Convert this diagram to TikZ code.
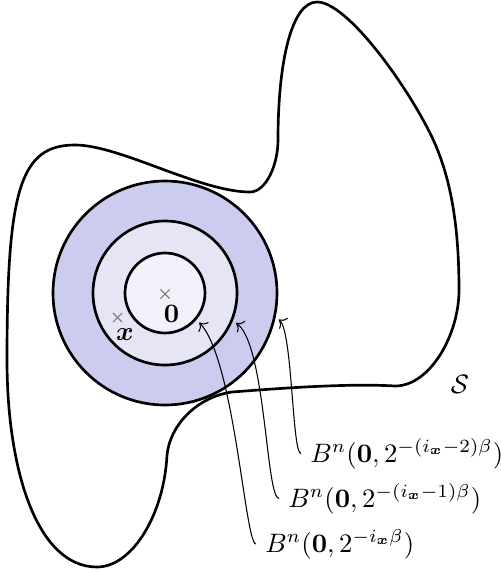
\documentclass[tikz,border=0pt]{standalone}
\usepackage{amsmath}
\usepackage{amssymb}
\usepackage{tikz}
\usepackage{xcolor}
\usetikzlibrary{arrows.meta, positioning, shapes}

\definecolor{bleuFonce}{RGB}{204,204,238}
\definecolor{bleuMoyen}{RGB}{229,229,245}
\definecolor{bleuClair}{RGB}{241,241,250}

\begin{document}
\begin{tikzpicture}[
				x=0.375pt, y=-0.375pt,
				% Styles pour les boules
				boule/.style={circle, draw=black, line width=1pt, inner sep=0pt, outer sep=0pt},
				croix/.style={cross out, draw=gray, line width=0.4pt, minimum size=3pt, inner sep=0pt},
				etiquette/.style={anchor=base west, inner sep=3.33pt},
				fleche/.style={->, thin, shorten >=2pt},
				]
				
				\useasboundingbox (0,0) rectangle (501,572);
				
				% Boules centrees en 0
				\node[boule, fill=bleuFonce, minimum size=84pt] (bouleExt) at (165,293) {};
				\node[boule, fill=bleuMoyen, minimum size=54pt] (bouleMil) at (165,293) {};
				\node[boule, fill=bleuClair, minimum size=30pt] (bouleInt) at (165,293) {};
				
				
				% Ensemble S
				\draw[line width=1pt] (75,145)
					.. controls +(45,0) and +(-50,0) .. (250,192)
					.. controls +(16,0) and +(0,25) .. (278,140)
					.. controls +(0,-80) and +(-25,0) .. (317,2)
					.. controls +(30,0) and +(-25,-50) .. (430,133)
					.. controls +(22,44) and +(0,-60) .. (459,290)
					.. controls +(0,45) and +(35,0) .. (395,386)
					.. controls +(-50,-3) and +(40,-3) .. (232,392)
					.. controls +(-35,5) and +(3,-30) .. (167,455)
					.. controls +(-3,60) and +(35,0) .. (97,567)
					.. controls +(-60,0) and +(0,110) .. (7,360)
					.. controls +(0,-170) and +(-55,0) .. (75,145) -- cycle;
				\node (nomS) at (460,384) {$\mathcal{S}$};
				
				
				% Points
				\node[croix] (croixZero) at (165,294) {};
				\node (zero) at (171.5,314) {$\mathbf{0}$};
				\node[croix] (croixX) at (117.5,317.5) {};
				\node (pointX) at (125,335) {$\boldsymbol{x}$};
				
				
				% Etiquettes
				\node[etiquette] (etiqExt) at (301,462) {$B^n(\mathbf{0},2^{-(i_{\boldsymbol{x}}-2)\beta})$};
				\node[etiquette] (etiqMil) at (279,507) {$B^n(\mathbf{0},2^{-(i_{\boldsymbol{x}}-1)\beta})$};
				\node[etiquette] (etiqInt) at (256,552) {$B^n(\mathbf{0},2^{-i_{\boldsymbol{x}}\beta})$};
				
				\draw[fleche] (etiqExt.west) .. controls +(-9,0) and +(18,14) .. (bouleExt.-12);
				\draw[fleche] (etiqMil.west) .. controls +(-13,0) and +(34,24) .. (bouleMil.-22.5);
				\draw[fleche] (etiqInt.west) .. controls +(-11,0) and +(39,41) .. (bouleInt.-40);
			\end{tikzpicture}
\end{document}
